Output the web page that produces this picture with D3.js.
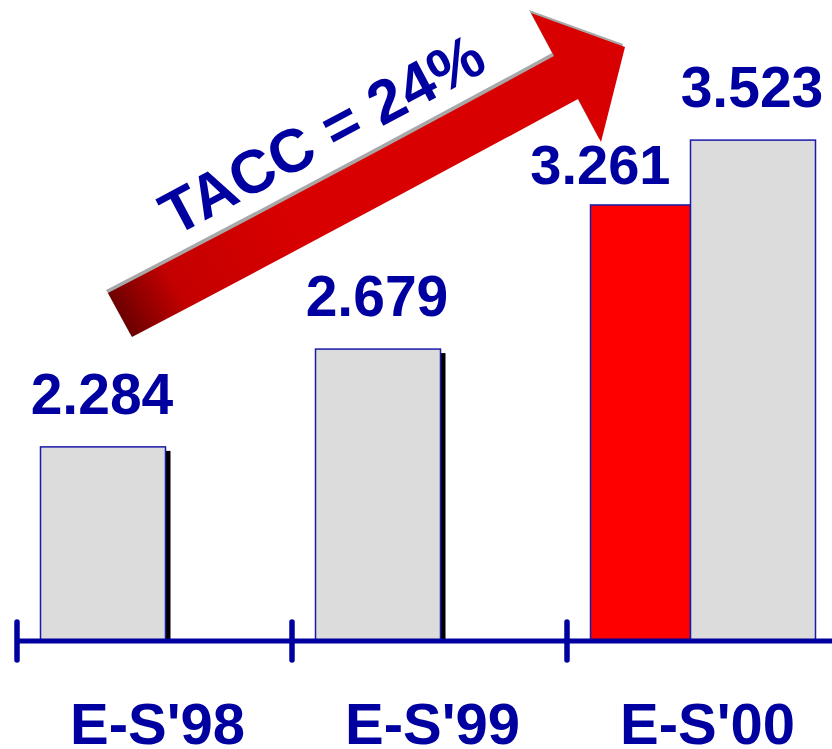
<!DOCTYPE html>
<html>
<head>
<meta charset="utf-8">
<script src="https://cdn.jsdelivr.net/npm/d3@7/dist/d3.min.js"></script>
<style>
  html, body { margin: 0; padding: 0; background: #fff; }
  svg { display: block; }
  text { font-family: "Liberation Sans", Arial, Helvetica, sans-serif; font-weight: bold; }
</style>
</head>
<body>
<div id="chart"></div>
<script>
// Sales per year (millions); the last year also shows the planned figure in red
const categories = ["E-S'98", "E-S'99", "E-S'00"];
const actualValues = [2.284, 2.679, 3.523];
const plannedValues = [null, null, 3.261];
const growthLabel = "TACC = 24%";

const W = 832, H = 749;
const blue = "#0000a0";

const svg = d3.select("#chart").append("svg")
  .attr("width", W).attr("height", H)
  .attr("viewBox", `0 0 ${W} ${H}`);

const defs = svg.append("defs");
const grad = defs.append("linearGradient")
  .attr("id", "arrowFill")
  .attr("gradientUnits", "userSpaceOnUse")
  .attr("x1", 125).attr("y1", 340).attr("x2", 300).attr("y2", 235);
grad.append("stop").attr("offset", 0).attr("stop-color", "#600000");
grad.append("stop").attr("offset", 0.35).attr("stop-color", "#c40000");
grad.append("stop").attr("offset", 1).attr("stop-color", "#d80000");

const x = d3.scaleBand().domain(categories).range([17, 17 + 275 * categories.length]);
const y = d3.scaleLinear().domain([1.5, 4]).range([641, 22]);

const baseY = y(1.5);
const barPad = 23.5, actualW = 125, plannedW = 100;

const rows = categories.map((c, i) => ({
  cat: c,
  actual: actualValues[i],
  planned: plannedValues[i]
}));

// Black drop shadow on the right of the single bars
svg.append("g").selectAll("rect")
  .data(rows.filter(d => d.planned == null))
  .join("rect")
  .attr("x", d => x(d.cat) + barPad + actualW - 1)
  .attr("y", d => y(d.actual) + 4)
  .attr("width", 6)
  .attr("height", d => baseY - y(d.actual) - 4)
  .attr("fill", "#000");

// Planned bars (red)
svg.append("g").selectAll("rect")
  .data(rows.filter(d => d.planned != null))
  .join("rect")
  .attr("x", d => x(d.cat) + barPad)
  .attr("y", d => y(d.planned))
  .attr("width", plannedW)
  .attr("height", d => baseY - y(d.planned))
  .attr("fill", "#ff0000")
  .attr("stroke", "#1a1aa8").attr("stroke-width", 1.5);

// Actual bars (grey)
const actualX = d => x(d.cat) + barPad + (d.planned != null ? plannedW : 0);
svg.append("g").selectAll("rect")
  .data(rows)
  .join("rect")
  .attr("x", actualX)
  .attr("y", d => y(d.actual))
  .attr("width", actualW)
  .attr("height", d => baseY - y(d.actual))
  .attr("fill", "#dcdcdc")
  .attr("stroke", "#1a1aa8").attr("stroke-width", 1.5);

// Value labels
svg.append("g").selectAll("text")
  .data(rows)
  .join("text")
  .attr("x", d => actualX(d) + actualW / 2 - 1)
  .attr("y", d => y(d.actual) - 33)
  .attr("text-anchor", "middle")
  .attr("font-size", 57)
  .attr("fill", blue)
  .text(d => d3.format(".3f")(d.actual));

svg.append("g").selectAll("text")
  .data(rows.filter(d => d.planned != null))
  .join("text")
  .attr("x", d => x(d.cat) + barPad + plannedW - 20)
  .attr("y", d => y(d.planned) - 21)
  .attr("text-anchor", "end")
  .attr("font-size", 56)
  .attr("fill", blue)
  .text(d => d3.format(".3f")(d.planned));

// Baseline with ticks at band boundaries
const axis = svg.append("g");
axis.append("line")
  .attr("x1", x(categories[0])).attr("x2", W + 10)
  .attr("y1", baseY).attr("y2", baseY)
  .attr("stroke", blue).attr("stroke-width", 5);
axis.selectAll("line.tick")
  .data(categories)
  .join("line")
  .attr("class", "tick")
  .attr("x1", d => x(d)).attr("x2", d => x(d))
  .attr("y1", baseY - 19).attr("y2", baseY + 19)
  .attr("stroke", blue).attr("stroke-width", 5.5)
  .attr("stroke-linecap", "round");

axis.selectAll("text")
  .data(categories)
  .join("text")
  .attr("x", d => x(d) + x.bandwidth() / 2 + 3)
  .attr("y", 744)
  .attr("text-anchor", "middle")
  .attr("font-size", 58)
  .attr("fill", blue)
  .text(d => d);

// Growth arrow
const arrowPath = "M108,293 Q330,178 554,56 L531,13 L625,47 L601,142 L578,99 Q355,220 132,337 Z";
svg.append("path")
  .attr("d", arrowPath)
  .attr("transform", "translate(-2,-3)")
  .attr("fill", "#a8a8a8");
svg.append("path")
  .attr("d", arrowPath)
  .attr("fill", "url(#arrowFill)");

svg.append("text")
  .attr("transform", "translate(332,153) rotate(-28)")
  .attr("text-anchor", "middle")
  .attr("font-size", 61)
  .attr("fill", blue)
  .text(growthLabel);
</script>
</body>
</html>
